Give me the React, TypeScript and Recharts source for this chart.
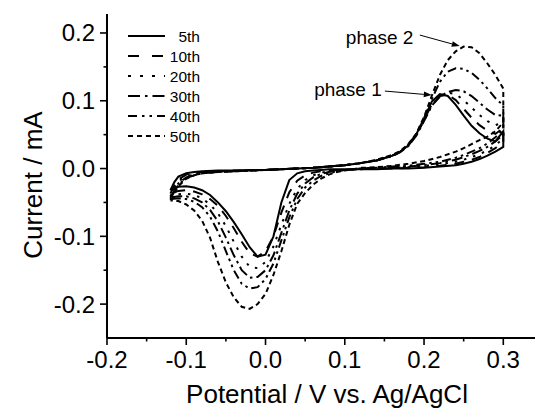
import { LineChart, Line, XAxis, YAxis, Legend, ReferenceLine, ReferenceDot } from "recharts";

// potential steps (V) of the forward (anodic) and reverse (cathodic) sweep
const forwardPotential = [
  -0.12, -0.115, -0.11, -0.1, -0.09, -0.08, -0.06, -0.04, -0.02, 0, 0.02, 0.04, 0.06, 0.08, 0.1, 0.12,
  0.14, 0.16, 0.17, 0.18, 0.19, 0.2, 0.21, 0.22, 0.23, 0.24, 0.25, 0.26, 0.27, 0.28, 0.29, 0.3,
];
const reversePotential = [
  0.3, 0.29, 0.28, 0.27, 0.26, 0.25, 0.24, 0.22, 0.2, 0.18, 0.16, 0.14, 0.12, 0.1, 0.09, 0.08, 0.07, 0.06,
  0.05, 0.04, 0.03, 0.02, 0.01, 0, -0.01, -0.02, -0.03, -0.04, -0.05, -0.06, -0.07, -0.08, -0.09, -0.1,
  -0.11, -0.12,
];

// current (mA), one forward + one reverse list per cycle
const forward5th = [
  -0.032, -0.02, -0.012, -0.007, -0.005, -0.004, -0.003, -0.003, -0.002, -0.002, -0.001, 0, 0.001, 0.003, 0.005, 0.008,
  0.012, 0.019, 0.025, 0.034, 0.05, 0.074, 0.099, 0.11, 0.107, 0.094, 0.078, 0.063, 0.052, 0.044, 0.04, 0.055,
];
const reverse5th = [
  0.032, 0.025, 0.019, 0.014, 0.01, 0.007, 0.005, 0.003, 0.001, 0, 0, -0.001, -0.001, -0.001, -0.001, -0.001, -0.002, -0.003,
  -0.004, -0.007, -0.017, -0.05, -0.1, -0.127, -0.13, -0.116, -0.097, -0.079, -0.063, -0.05, -0.039, -0.032, -0.028, -0.026,
  -0.027, -0.032,
];
const forward10th = [
  -0.037, -0.025, -0.016, -0.009, -0.006, -0.005, -0.004, -0.003, -0.003, -0.002, -0.001, 0, 0.001, 0.003, 0.005, 0.008,
  0.012, 0.019, 0.025, 0.034, 0.049, 0.072, 0.095, 0.107, 0.109, 0.101, 0.088, 0.075, 0.064, 0.056, 0.051, 0.06,
];
const reverse10th = [
  0.04, 0.03, 0.023, 0.017, 0.013, 0.01, 0.007, 0.004, 0.002, 0.001, 0, 0, -0.001, -0.002, -0.002, -0.003, -0.004, -0.006,
  -0.01, -0.018, -0.035, -0.065, -0.1, -0.122, -0.13, -0.125, -0.108, -0.088, -0.07, -0.055, -0.045, -0.038, -0.034, -0.032,
  -0.033, -0.037,
];
const forward20th = [
  -0.041, -0.029, -0.019, -0.011, -0.008, -0.006, -0.005, -0.004, -0.003, -0.002, -0.001, 0, 0.001, 0.003, 0.005, 0.008,
  0.012, 0.019, 0.025, 0.034, 0.049, 0.071, 0.094, 0.107, 0.112, 0.11, 0.101, 0.09, 0.079, 0.07, 0.064, 0.068,
];
const reverse20th = [
  0.045, 0.034, 0.027, 0.021, 0.017, 0.013, 0.01, 0.006, 0.004, 0.002, 0.001, 0, -0.001, -0.002, -0.003, -0.004, -0.006, -0.01,
  -0.017, -0.03, -0.052, -0.083, -0.115, -0.138, -0.147, -0.145, -0.13, -0.108, -0.085, -0.066, -0.053, -0.044, -0.039, -0.037,
  -0.038, -0.041,
];
const forward30th = [
  -0.043, -0.032, -0.022, -0.013, -0.009, -0.007, -0.005, -0.004, -0.003, -0.002, -0.001, 0, 0.001, 0.003, 0.005, 0.008,
  0.012, 0.018, 0.024, 0.033, 0.048, 0.07, 0.093, 0.106, 0.113, 0.116, 0.114, 0.107, 0.097, 0.087, 0.079, 0.078,
];
const reverse30th = [
  0.05, 0.04, 0.032, 0.026, 0.021, 0.017, 0.013, 0.008, 0.005, 0.003, 0.002, 0.001, 0, -0.002, -0.003, -0.005, -0.008, -0.013,
  -0.022, -0.037, -0.062, -0.095, -0.128, -0.15, -0.16, -0.161, -0.15, -0.128, -0.102, -0.078, -0.061, -0.05, -0.044, -0.041,
  -0.041, -0.043,
];
const forward40th = [
  -0.045, -0.034, -0.024, -0.014, -0.01, -0.007, -0.005, -0.004, -0.003, -0.002, -0.001, 0, 0.001, 0.003, 0.005, 0.008,
  0.012, 0.019, 0.025, 0.035, 0.05, 0.074, 0.103, 0.128, 0.143, 0.148, 0.147, 0.141, 0.131, 0.118, 0.104, 0.093,
];
const reverse40th = [
  0.058, 0.046, 0.037, 0.03, 0.025, 0.02, 0.016, 0.01, 0.007, 0.004, 0.003, 0.001, 0, -0.002, -0.004, -0.007, -0.011, -0.018,
  -0.028, -0.045, -0.072, -0.106, -0.14, -0.163, -0.175, -0.177, -0.17, -0.15, -0.122, -0.093, -0.071, -0.057, -0.049, -0.045,
  -0.044, -0.045,
];
const forward50th = [
  -0.047, -0.036, -0.026, -0.015, -0.01, -0.007, -0.005, -0.004, -0.003, -0.002, -0.001, 0, 0.001, 0.003, 0.005, 0.008,
  0.013, 0.02, 0.026, 0.036, 0.051, 0.076, 0.108, 0.138, 0.16, 0.173, 0.18, 0.179, 0.17, 0.155, 0.138, 0.118,
];
const reverse50th = [
  0.068, 0.055, 0.047, 0.042, 0.036, 0.03, 0.025, 0.017, 0.011, 0.007, 0.004, 0.002, 0.001, -0.003, -0.005, -0.009, -0.015, -0.024,
  -0.036, -0.052, -0.083, -0.122, -0.157, -0.185, -0.2, -0.207, -0.204, -0.19, -0.168, -0.138, -0.102, -0.077, -0.062, -0.053,
  -0.048, -0.047,
];

const cycleNames = ["5th", "10th", "20th", "30th", "40th", "50th"];
const forwardCurrents = [forward5th, forward10th, forward20th, forward30th, forward40th, forward50th];
const reverseCurrents = [reverse5th, reverse10th, reverse20th, reverse30th, reverse40th, reverse50th];

const xTicks = [-0.2, -0.15, -0.1, -0.05, 0, 0.05, 0.1, 0.15, 0.2, 0.25, 0.3];
const yTicks = [-0.2, -0.15, -0.1, -0.05, 0, 0.05, 0.1, 0.15, 0.2];

// annotations: label centre, arrow start, arrow tip (V, mA)
const phaseLabels = ["phase 1", "phase 2"];
const phaseLabelAt = [[0.104, 0.117], [0.144, 0.194]];
const phaseArrowFrom = [[0.1506, 0.1143], [0.1947, 0.1969]];
const phaseArrowTo = [[0.2098, 0.1084], [0.2451, 0.1807]];

const dashes = ["", "10 8", "2.5 7", "11 4 2.5 4", "9 4 2.5 4 2.5 4", "5 3.5"];
const legendDashes = ["", "11 13", "3 9", "12 5 2.5 5", "9 5 2.5 5 2.5 5", "5 4"];

const FONT = "'Liberation Sans', Arial, Helvetica, sans-serif";

const cycles = cycleNames.map((name, k) => ({
  name,
  points: [
    ...forwardPotential.map((v, j) => ({ v, i: forwardCurrents[k][j] })),
    ...reversePotential.map((v, j) => ({ v, i: reverseCurrents[k][j] })),
  ],
}));

const isMajor = (v: number) => Math.abs(v * 10 - Math.round(v * 10)) < 1e-6;

const XTick = ({ x, y, payload }: any) => {
  const major = isMajor(payload.value);
  return (
    <g>
      <line x1={x} y1={y} x2={x} y2={y + (major ? 7 : 3.5)} stroke="#000" strokeWidth={1.6} />
      {major && (
        <text x={x} y={y + 30} textAnchor="middle" fontSize={24} fontFamily={FONT} fill="#000">
          {payload.value.toFixed(1)}
        </text>
      )}
    </g>
  );
};

const YTick = ({ x, y, payload }: any) => {
  const major = isMajor(payload.value);
  return (
    <g>
      <line x1={x} y1={y} x2={x - (major ? 7 : 3.5)} y2={y} stroke="#000" strokeWidth={1.6} />
      {major && (
        <text x={x - 12} y={y + 8.5} textAnchor="end" fontSize={24} fontFamily={FONT} fill="#000">
          {payload.value.toFixed(1)}
        </text>
      )}
    </g>
  );
};

const YTitle = ({ viewBox }: any) => (
  <text
    x={0}
    y={0}
    transform={`translate(${viewBox.x + 33}, ${viewBox.y + viewBox.height / 2 + 9}) rotate(-90)`}
    textAnchor="middle"
    dominantBaseline="central"
    fontSize={26}
    fontFamily={FONT}
    fill="#000"
  >
    Current / mA
  </text>
);

const Arrow = ({ x1, y1, x2, y2 }: any) => {
  const a = Math.atan2(y2 - y1, x2 - x1);
  const len = 8;
  const w = 2.8;
  const bx = x2 - len * Math.cos(a);
  const by = y2 - len * Math.sin(a);
  const pts = `${x2},${y2} ${bx - w * Math.sin(a)},${by + w * Math.cos(a)} ${bx + w * Math.sin(a)},${by - w * Math.cos(a)}`;
  return (
    <g>
      <line x1={x1} y1={y1} x2={bx} y2={by} stroke="#000" strokeWidth={1} />
      <polygon points={pts} fill="#000" />
    </g>
  );
};

const LegendBox = () => (
  <svg width={90} height={125}>
    {cycleNames.map((n, k) => (
      <g key={n}>
        <line x1={8} x2={45} y1={12 + k * 20} y2={12 + k * 20} stroke="#000" strokeWidth={2} strokeDasharray={legendDashes[k]} />
        <text x={80} y={17.5 + k * 20} textAnchor="end" fontSize={15.5} fontFamily={FONT} fill="#000">
          {n}
        </text>
      </g>
    ))}
  </svg>
);

export default function App() {
  return (
    <div style={{ position: "absolute", left: 0, top: 0, width: 535, height: 410, background: "#fff" }}>
      <LineChart width={535} height={410} margin={{ top: 14, right: 0, bottom: 0, left: 0 }}>
        <XAxis
          dataKey="v"
          type="number"
          domain={[-0.2, 0.34]}
          allowDataOverflow
          ticks={xTicks}
          interval={0}
          height={72}
          tickSize={0}
          tickMargin={0}
          tickLine={false}
          tick={<XTick />}
          axisLine={{ stroke: "#000", strokeWidth: 2 }}
          label={{ value: "Potential / V vs. Ag/AgCl", position: "insideBottom", offset: 7, dx: 6, fontSize: 26, fontFamily: FONT, fill: "#000" }}
        />
        <XAxis
          xAxisId="top"
          orientation="top"
          type="number"
          domain={[-0.2, 0.34]}
          height={0}
          tick={false}
          tickLine={false}
          axisLine={{ stroke: "#000", strokeWidth: 2 }}
        />
        <YAxis
          type="number"
          domain={[-0.25, 0.228]}
          allowDataOverflow
          ticks={yTicks}
          interval={0}
          width={107}
          tickSize={0}
          tickMargin={0}
          tickLine={false}
          tick={<YTick />}
          axisLine={{ stroke: "#000", strokeWidth: 2 }}
          label={<YTitle />}
        />
        <Legend
          layout="vertical"
          verticalAlign="middle"
          align="center"
          content={<LegendBox />}
          wrapperStyle={{ left: 120, top: 24, width: 90, height: 125 }}
        />
        {cycles.map((c, k) => (
          <Line
            key={c.name}
            name={c.name}
            data={c.points}
            dataKey="i"
            type="linear"
            stroke="#000"
            strokeWidth={2}
            strokeDasharray={dashes[k]}
            dot={false}
            activeDot={false}
            isAnimationActive={false}
          />
        ))}
        {phaseLabels.map((t, k) => (
          <ReferenceLine
            key={"arrow" + t}
            segment={[
              { x: phaseArrowFrom[k][0], y: phaseArrowFrom[k][1] },
              { x: phaseArrowTo[k][0], y: phaseArrowTo[k][1] },
            ]}
            stroke="#000"
            shape={<Arrow />}
          />
        ))}
        {phaseLabels.map((t, k) => (
          <ReferenceDot
            key={"label" + t}
            x={phaseLabelAt[k][0]}
            y={phaseLabelAt[k][1]}
            r={0}
            fill="none"
            stroke="none"
            label={{ value: t, position: "center", fontSize: 19, fontFamily: FONT, fill: "#000" }}
          />
        ))}
      </LineChart>
    </div>
  );
}
